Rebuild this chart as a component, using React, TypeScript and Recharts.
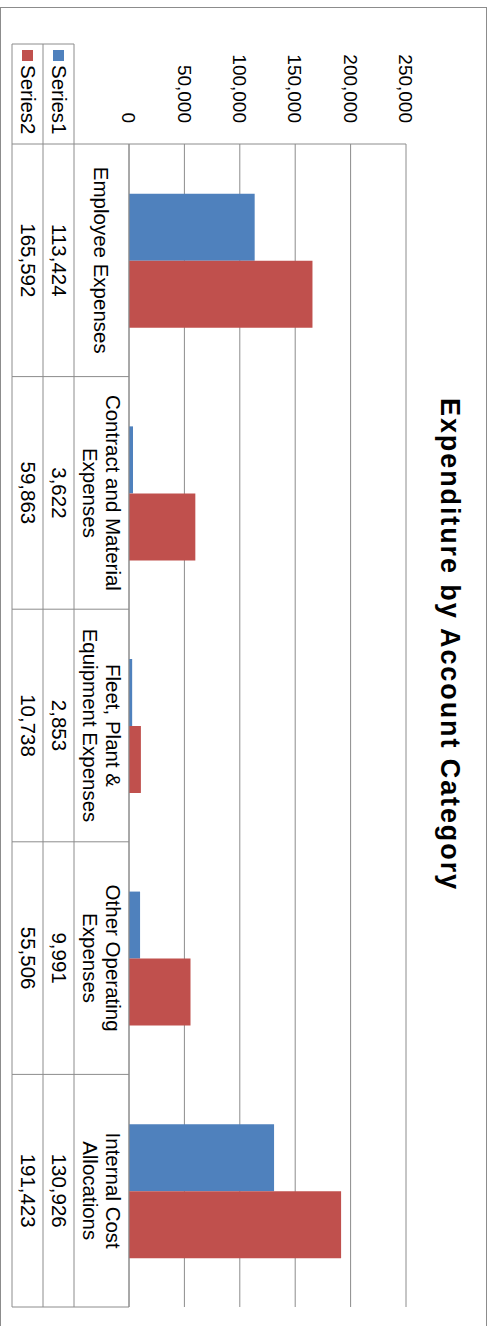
import { BarChart, Bar, XAxis, YAxis, CartesianGrid } from 'recharts'

const categories = [
  'Employee Expenses',
  'Contract and Material\nExpenses',
  'Fleet, Plant &\nEquipment Expenses',
  'Other Operating\nExpenses',
  'Internal Cost\nAllocations',
]
const series1 = [113424, 3622, 2853, 9991, 130926]
const series2 = [165592, 59863, 10738, 55506, 191423]
const seriesNames = ['Series1', 'Series2']
const seriesColors = ['#4F81BD', '#C0504D']
const valueTicks = [0, 50000, 100000, 150000, 200000, 250000]

const data = categories.map((name, i) => ({ name, s1: series1[i], s2: series2[i] }))

// chart is laid out landscape, then turned a quarter clockwise
const W = 1326
const H = 489
const PLOT_LEFT = 144
const PLOT_RIGHT = 1307
const AXIS_Y = 360
const BAND = (PLOT_RIGHT - PLOT_LEFT) / categories.length
const ROWS = [360, 415, 446, 477]
const LEGEND_LEFT = 44
const GRID = '#8c8c8c'
const FONT = 20.5

const fmt = (v: number) => v.toLocaleString('en-US')

function TableTick(props: any) {
  const { x, payload } = props
  const i = props.index ?? payload.index
  const left = x - BAND / 2
  const right = x + BAND / 2
  const lines = String(payload.value).split('\n')
  const values = [series1[i], series2[i]]
  const mid = (ROWS[0] + ROWS[1]) / 2
  return (
    <g>
      {i === 0 && (
        <g>
          <line x1={left} x2={left} y1={ROWS[0]} y2={ROWS[3]} stroke={GRID} />
          <line x1={LEGEND_LEFT} x2={LEGEND_LEFT} y1={ROWS[1]} y2={ROWS[3]} stroke={GRID} />
          {ROWS.slice(1).map((r) => (
            <line key={r} x1={LEGEND_LEFT} x2={left} y1={r} y2={r} stroke={GRID} />
          ))}
          {seriesNames.map((s, k) => {
            const c = (ROWS[k + 1] + ROWS[k + 2]) / 2
            return (
              <g key={s}>
                <rect x={50} y={c - 5.5} width={11} height={11} fill={seriesColors[k]} />
                <text x={65} y={c + 7} fontSize={FONT} fill="#000">
                  {s}
                </text>
              </g>
            )
          })}
        </g>
      )}
      <line x1={right} x2={right} y1={ROWS[0]} y2={ROWS[3]} stroke={GRID} />
      {ROWS.slice(1).map((r) => (
        <line key={r} x1={left} x2={right} y1={r} y2={r} stroke={GRID} />
      ))}
      {lines.map((t, k) => (
        <text
          key={k}
          x={x}
          y={mid + 7.5 + (k - (lines.length - 1) / 2) * 23}
          textAnchor="middle"
          fontSize={FONT}
          fill="#000"
        >
          {t}
        </text>
      ))}
      {values.map((v, k) => (
        <text
          key={k}
          x={x}
          y={(ROWS[k + 1] + ROWS[k + 2]) / 2 + 7}
          textAnchor="middle"
          fontSize={FONT}
          fill="#000"
        >
          {fmt(v)}
        </text>
      ))}
    </g>
  )
}

export default function App() {
  return (
    <div
      style={{
        position: 'absolute',
        left: 0,
        top: 0,
        width: W,
        height: H,
        transformOrigin: '0 0',
        transform: `translate(${H}px, 0) rotate(90deg)`,
        fontFamily: '"Liberation Sans", Arial, sans-serif',
        background: '#fff',
      }}
    >
      <div
        style={{
          position: 'absolute',
          left: 7,
          top: 2,
          width: W - 7,
          height: 487,
          boxSizing: 'border-box',
          border: `1px solid ${GRID}`,
          borderRight: 'none',
        }}
      />
      <div
        style={{
          position: 'absolute',
          left: 398,
          top: 26,
          fontSize: 27,
          fontWeight: 'bold',
          lineHeight: 1,
          letterSpacing: 1.9,
          whiteSpace: 'nowrap',
          color: '#000',
        }}
      >
        Expenditure by Account Category
      </div>
      <div style={{ position: 'absolute', left: 0, top: 0 }}>
        <BarChart
          width={W}
          height={H}
          data={data}
          margin={{ top: 83, right: W - PLOT_RIGHT, left: PLOT_LEFT - 60, bottom: 0 }}
          barCategoryGap="21.4%"
          barGap={0}
        >
          <CartesianGrid vertical={false} stroke={GRID} />
          <XAxis
            dataKey="name"
            height={H - AXIS_Y}
            axisLine={{ stroke: GRID }}
            tickLine={false}
            interval={0}
            tick={(p: any) => <TableTick {...p} />}
          />
          <YAxis
            type="number"
            domain={[0, 250000]}
            ticks={valueTicks}
            width={60}
            interval={0}
            axisLine={{ stroke: GRID }}
            tickLine={false}
            tickSize={0}
            tickMargin={21}
            tick={{ fontSize: 19, fill: '#000' }}
            tickFormatter={fmt}
          />
          <Bar dataKey="s1" fill={seriesColors[0]} isAnimationActive={false} />
          <Bar dataKey="s2" fill={seriesColors[1]} isAnimationActive={false} />
        </BarChart>
      </div>
    </div>
  )
}
